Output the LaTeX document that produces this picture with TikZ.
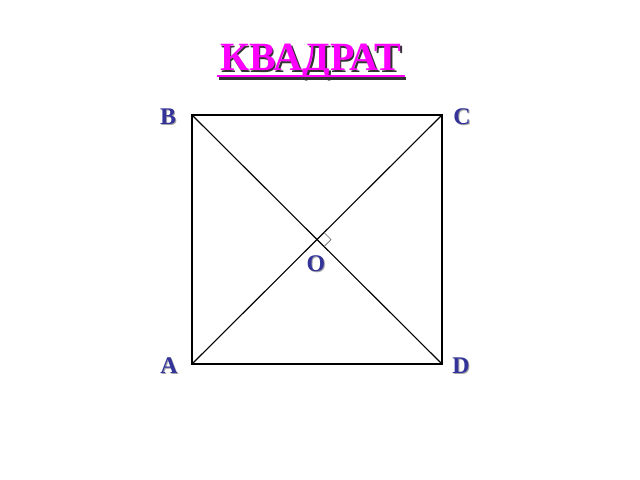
\documentclass[tikz,border=0pt]{standalone}
\usepackage{fontspec}
\setmainfont{Liberation Serif}
\usepackage{xcolor}
\usetikzlibrary{calc}

\definecolor{ptblue}{RGB}{51,51,153}
\definecolor{titlemag}{RGB}{255,0,255}

\tikzset{
  vlabel/.style={font=\bfseries\fontsize{17}{17}\selectfont, text=ptblue, inner sep=0pt},
  vshadow/.style={font=\bfseries\fontsize{17}{17}\selectfont, text=black!35, inner sep=0pt},
  ttext/.style={font=\bfseries\fontsize{28.5}{28.5}\selectfont, inner sep=0pt},
  side/.style={line width=2pt},
  diag/.style={line width=0.8pt}
}

\begin{document}
\begin{tikzpicture}[x=0.025cm, y=-0.025cm]
      \useasboundingbox (0,0) rectangle (640,480);

      % title
      \node[ttext, text=black!80] (titleshadow) at (312.5,63.5) {КВАДРАТ};
      \node[ttext, text=titlemag] (title) at (311,62) {КВАДРАТ};
      \draw[black!80, line width=1.5pt] ($(titleshadow.base west)+(-3,6)$) -- ($(titleshadow.base east)+(3,6)$);
      \draw[titlemag, line width=1.5pt] ($(title.base west)+(-3,5)$) -- ($(title.base east)+(3,5)$);

      % square
      \coordinate (A) at (192,364);
      \coordinate (B) at (192,115);
      \coordinate (C) at (442,115);
      \coordinate (D) at (442,364);
      \coordinate (O) at (317,239.5);

      \draw[side] (A) -- (B) -- (C) -- (D) -- cycle;
      \draw[diag] (A) -- (C);
      \draw[diag] (B) -- (D);
      \draw[line width=0.5pt, black!60] ($(O)+(7,-7)$) -- ($(O)+(14,0)$) -- ($(O)+(7,7)$);

      % vertex names
      \node[vshadow] at (169,118) {B};
      \node[vlabel] (lB) at (168,117) {B};
      \node[vshadow] at (463,118) {C};
      \node[vlabel] (lC) at (462,117) {C};
      \node[vshadow] at (170,367) {A};
      \node[vlabel] (lA) at (169,366) {A};
      \node[vshadow] at (462,367) {D};
      \node[vlabel] (lD) at (461,366) {D};
      \node[vshadow] at (317,265) {O};
      \node[vlabel] (lO) at (316,264) {O};
\end{tikzpicture}
\end{document}
